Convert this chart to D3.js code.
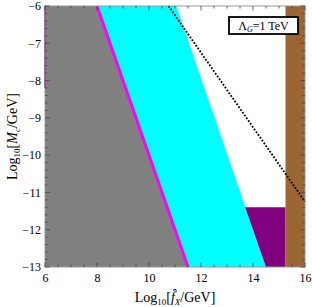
<!DOCTYPE html>
<html><head><meta charset="utf-8">
<script src="https://cdn.jsdelivr.net/npm/d3@7"></script>
<style>body{margin:0;background:#fff}svg{display:block}text{font-family:"Liberation Serif","DejaVu Serif",serif}</style>
</head><body>
<svg id="c" width="312" height="307"></svg>
<script>
const xDomain = [6, 16];
const yDomain = [-13, -6];
const xMajorTicks = [6, 8, 10, 12, 14, 16];
const yMajorTicks = [-6, -7, -8, -9, -10, -11, -12, -13];
// region boundaries [log10 f, log10 M]
const grayEdge = [[8, -6], [11.5, -13]];
const cyanEdge = [[11.05, -6], [14.5, -13]];
const purpleRegion = [[13.7, -11.4], [15.25, -11.4], [15.25, -13], [14.5, -13]];
const brownRange = [15.25, 16];
const dottedLine = [[10.75, -6], [16, -11.25]];
const leftPurple = [[6, -6], [6, -8.2]];

const svg = d3.select("#c");
const m = {l: 45, r: 305, t: 6, b: 267};
const x = d3.scaleLinear().domain(xDomain).range([m.l, m.r]);
const y = d3.scaleLinear().domain(yDomain).range([m.b, m.t]);
const line = d3.line().x(d => x(d[0])).y(d => y(d[1]));

const g = svg.append("g");
// gray region
g.append("path").attr("d", line([[6, -6], grayEdge[0], grayEdge[1], [6, -13]]) + "Z").attr("fill", "#808080");
// cyan region
g.append("path").attr("d", line([grayEdge[0], cyanEdge[0], cyanEdge[1], grayEdge[1]]) + "Z").attr("fill", "#00ffff");
// purple region
g.append("path").attr("d", line(purpleRegion) + "Z").attr("fill", "#800080");
// brown band
g.append("rect").attr("x", x(brownRange[0])).attr("width", x(brownRange[1]) - x(brownRange[0]))
  .attr("y", y(-6)).attr("height", y(-13) - y(-6)).attr("fill", "#9b6633");
// magenta line
g.append("path").attr("d", line(grayEdge)).attr("stroke", "#ff00ff").attr("stroke-width", 3).attr("fill", "none");
// left purple line
g.append("path").attr("d", line(leftPurple)).attr("stroke", "#800080").attr("stroke-width", 1.5).attr("fill", "none");
// dotted line
g.append("path").attr("d", line(dottedLine)).attr("stroke", "#000").attr("stroke-width", 1.8)
  .attr("stroke-dasharray", "1.8,1.6").attr("fill", "none");

// frame
svg.append("rect").attr("x", m.l).attr("y", m.t).attr("width", m.r - m.l).attr("height", m.b - m.t)
  .attr("fill", "none").attr("stroke", "#999").attr("stroke-width", 1);

// ticks
const tk = svg.append("g").attr("stroke", "#444").attr("stroke-width", 0.8);
const xMinor = d3.range(6, 16.001, 0.5);
const yMinor = d3.range(-13, -5.999, 0.2);
xMinor.forEach(v => {
  const major = xMajorTicks.some(t => Math.abs(t - v) < 1e-6);
  const len = major ? 4.5 : 2.5;
  tk.append("line").attr("x1", x(v)).attr("x2", x(v)).attr("y1", m.b).attr("y2", m.b - len);
  tk.append("line").attr("x1", x(v)).attr("x2", x(v)).attr("y1", m.t).attr("y2", m.t + len);
});
yMinor.forEach(v => {
  const major = yMajorTicks.some(t => Math.abs(t - v) < 1e-6);
  const len = major ? 4.5 : 2.5;
  tk.append("line").attr("y1", y(v)).attr("y2", y(v)).attr("x1", m.l).attr("x2", m.l + len);
  tk.append("line").attr("y1", y(v)).attr("y2", y(v)).attr("x1", m.r).attr("x2", m.r - len);
});

// tick labels via axes
const xAxis = d3.axisBottom(x).tickValues(xMajorTicks).tickSize(0).tickPadding(0).tickFormat(d3.format("d"));
const xa = svg.append("g").attr("transform", `translate(0,${m.b + 6})`).call(xAxis);
xa.select(".domain").remove();
xa.selectAll("text").attr("font-size", 12).attr("fill", "#000").attr("dy", "0.71em")
  .style("font-family", '"Liberation Serif",serif');
const yAxis = d3.axisLeft(y).tickValues(yMajorTicks).tickSize(0).tickPadding(0).tickFormat(d => "\u2212" + Math.abs(d));
const ya = svg.append("g").attr("transform", `translate(${m.l - 4},0)`).call(yAxis);
ya.select(".domain").remove();
ya.selectAll("text").attr("font-size", 12).attr("fill", "#000").style("font-family", '"Liberation Serif",serif');

// axis labels
const xl = svg.append("text").attr("x", (m.l + m.r) / 2).attr("y", 302).attr("text-anchor", "middle").attr("font-size", 14);
xl.append("tspan").text("Log");
xl.append("tspan").attr("font-size", 9).attr("dy", 3).text("10");
xl.append("tspan").attr("dy", -3).text("[");
xl.append("tspan").attr("font-style", "italic").text("f\u0302");
xl.append("tspan").attr("font-size", 9).attr("font-style", "italic").attr("dy", 3).text("X");
xl.append("tspan").attr("dy", -3).text("/GeV]");

const yl = svg.append("text").attr("transform", `translate(17,${(m.t + m.b) / 2}) rotate(-90)`)
  .attr("text-anchor", "middle").attr("font-size", 14);
yl.append("tspan").text("Log");
yl.append("tspan").attr("font-size", 9).attr("dy", 3).text("10");
yl.append("tspan").attr("dy", -3).text("[");
yl.append("tspan").attr("font-style", "italic").text("M");
yl.append("tspan").attr("font-size", 9).attr("font-style", "italic").attr("dy", 3).text("c");
yl.append("tspan").attr("dy", -3).text("/GeV]");

// legend
svg.append("rect").attr("x", 229).attr("y", 17).attr("width", 69).attr("height", 17)
  .attr("fill", "#fff").attr("stroke", "#000").attr("stroke-width", 1.8);
const lt = svg.append("text").attr("x", 263.5).attr("y", 30).attr("text-anchor", "middle").attr("font-size", 12);
lt.append("tspan").text("\u039B");
lt.append("tspan").attr("font-size", 8).attr("font-style", "italic").attr("dy", 2).text("G");
lt.append("tspan").attr("dy", -2).text("=1 TeV");
</script>
</body></html>
